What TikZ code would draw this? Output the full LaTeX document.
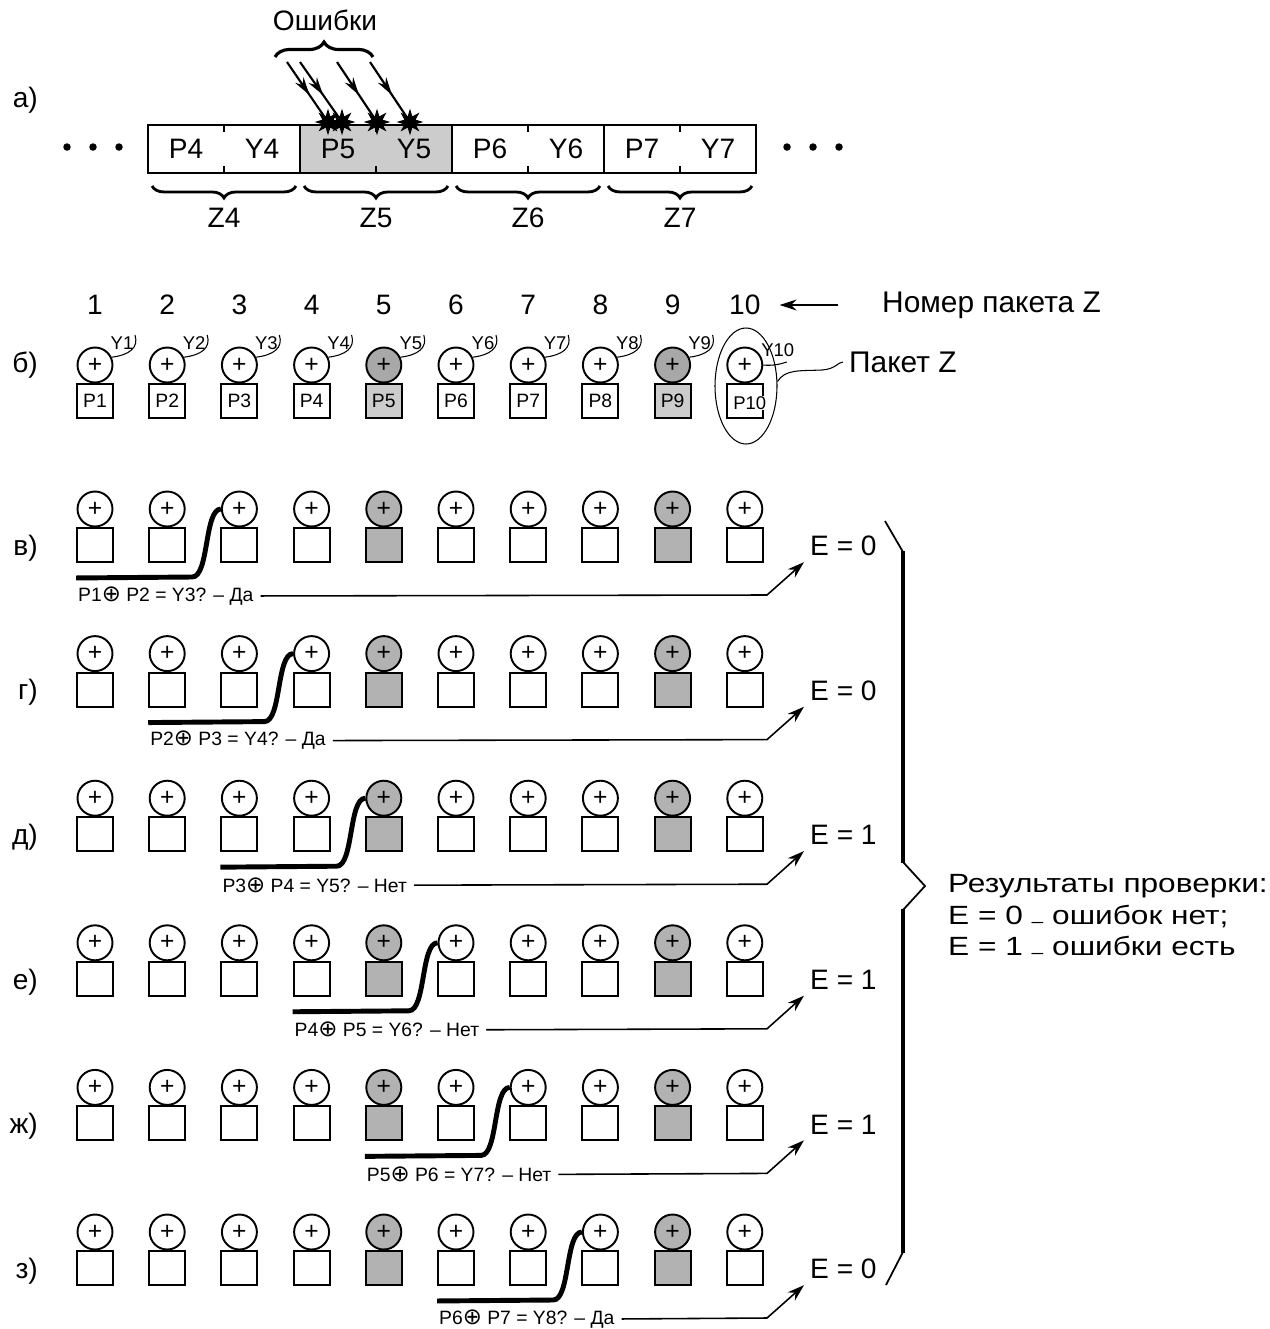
\documentclass[tikz,border=0pt]{standalone}
\usepackage{fontspec}
\usepackage{graphicx}
\setmainfont{Liberation Sans}
\newfontfamily\symfont{DejaVu Sans}
\usetikzlibrary{arrows.meta, positioning, shapes.geometric, decorations.pathreplacing, decorations.markings}

\definecolor{zgray}{gray}{0.80}
\colorlet{qwhite}{white}
\definecolor{qgray}{gray}{0.66}
\colorlet{pwhite}{white}
\definecolor{pgray}{gray}{0.80}
\colorlet{rwhite}{white}
\definecolor{rgray}{gray}{0.70}

\newcommand{\xo}{{\symfont\fontsize{13}{13}\selectfont ⊕}}
\newcommand{\lowdash}{\raisebox{-0.2ex}{\fontsize{10}{10}\selectfont –}}

\begin{document}
\begin{tikzpicture}[
        x=0.02cm, y=-0.02cm,
        every node/.style={font=\fontsize{16}{18}\selectfont},
        big/.style={font=\fontsize{17}{18}\selectfont},
        rowlab/.style={anchor=east},
        xorc/.style={circle, draw, line width=1.1pt, minimum size=0.70cm, inner sep=0pt, font=\fontsize{14}{14}\selectfont},
        pbox/.style={rectangle, draw, line width=1.1pt, minimum width=0.72cm, minimum height=0.68cm, inner sep=0pt, font=\fontsize{11}{11}\selectfont},
        zbox/.style={rectangle, draw, line width=1.1pt, minimum width=3.04cm, minimum height=0.96cm, inner sep=0pt},
        dot/.style={circle, fill=black, minimum size=0.15cm, inner sep=0pt},
        hit/.style={star, star points=8, star point ratio=2.2, fill=black, draw, line width=0.6pt, minimum size=0.46cm, inner sep=0pt},
        errline/.style={draw, line width=1.2pt, postaction={decorate},
          decoration={markings, mark=at position 0.55 with {\arrow{Stealth[length=0.36cm, width=0.2cm]}}}},
        zbrace/.style={draw, line width=1.6pt, decorate, decoration={brace, mirror, amplitude=0.24cm}},
        chk/.style={draw, line width=2.8pt},
        line/.style={draw, line width=0.9pt, -{Stealth[length=0.34cm, width=0.22cm]}},
        ylab/.style={font=\fontsize{10.5}{11}\selectfont, inner sep=0pt},
        small/.style={font=\fontsize{11}{12}\selectfont}
        ]
        \useasboundingbox (0,0) rectangle (1270,1329);

        % a) packets in the channel
        \node[rowlab] (la) at (44,100) {а)};
        \foreach \x in {67,93,119} \node[dot] at (\x,147) {};
        \foreach \x in {787,813,839} \node[dot] at (\x,147) {};
        \foreach \k/\x/\f in {4/224/white, 5/376/zgray, 6/528/white, 7/680/white} {
          \node[zbox, fill=\f] (z\k) at (\x,149) {};
          \node at ([xshift=-0.76cm]z\k.center) {P\k};
          \node at ([xshift=0.76cm]z\k.center) {Y\k};
          \draw[line width=1pt] (z\k.north) -- ++(0,8) (z\k.south) -- ++(0,-8);
          \draw[zbrace] ([xshift=0.1cm, yshift=-0.24cm]z\k.south west) -- ([xshift=-0.1cm, yshift=-0.24cm]z\k.south east);
          \node (zl\k) at (\x,218) {Z\k};
        }
        \node (err) at (325,20) {Ошибки};
        \draw[line width=1.8pt, decorate, decoration={brace, amplitude=0.3cm}] (275,57) -- (373,57);
        \foreach \s/\e [count=\j] in {287/328, 300/342, 337/377, 370/410} {
          \node[hit] (h\j) at (\e,122) {};
          \coordinate (s\j) at (\s,62);
          \path[errline] (s\j) -- (h\j.center);
        }

        % b) numbering of packets
        \node[rowlab] (lb) at (44,365) {б)};
        \foreach \i/\cf in {1/white,2/white,3/white,4/white,5/gray,6/white,7/white,8/white,9/gray,10/white} {
          \pgfmathsetmacro\cx{95+72.2*(\i-1)}
          \node (n\i) at (\cx,305) {\i};
          \node[xorc, fill=q\cf] (q\i) at (\cx,365) {+};
          \ifnum\i<10
            \node[pbox, fill=p\cf] (p\i) at (\cx,401) {P\i};
            \node[ylab] (y\i) at (\cx+27,343) {Y\i};
            \draw[line width=0.6pt] (q\i.25) .. controls (\cx+34,355) and (\cx+44,348) .. (\cx+40,335);
          \else
            \node[pbox] (p\i) at (\cx,401) {};
            \node[ylab, fill=white] (p\i t) at (\cx+5,403) {P\i};
            \node[ylab] (y\i) at (\cx+33,350) {Y\i};
            \draw[line width=0.6pt] (q\i.east) .. controls (\cx+28,366) and (\cx+36,364) .. (\cx+42,362);
          \fi
        }
        \node[big, anchor=west] (numlbl) at (876,305) {Номер пакета Z};
        \path[line] ([xshift=-0.76cm]numlbl.west) -- ([xshift=0.26cm]n10.east);
        \node[ellipse, draw, line width=0.6pt, minimum width=1.24cm, minimum height=2.32cm, inner sep=0pt] (pak) at (746,386) {};
        \node[big, anchor=west] (paklbl) at (843,362) {Пакет Z};
        \draw[line width=0.6pt] (pak.8) .. controls (785,369) and (800,371) .. (822,370) .. controls (836,369) and (838,362) .. (paklbl.west);

        % c)--h) checks of neighbouring packets
        \foreach \r/\lab/\res/\txt in {0/в/0/{P1\xo\ P2 = Y3? – Да}, 1/г/0/{P2\xo\ P3 = Y4? – Да},
            2/д/1/{P3\xo\ P4 = Y5? – Нет}, 3/е/1/{P4\xo\ P5 = Y6? – Нет},
            4/ж/1/{P5\xo\ P6 = Y7? – Нет}, 5/з/0/{P6\xo\ P7 = Y8? – Да}} {
          \pgfmathsetmacro\cy{509+144.6*\r}
          \node[rowlab] (l\r) at (44,\cy+39) {\lab)};
          \foreach \i/\cf in {1/white,2/white,3/white,4/white,5/gray,6/white,7/white,8/white,9/gray,10/white} {
            \pgfmathsetmacro\cx{95+72.2*(\i-1)}
            \node[xorc, fill=r\cf] (c\r-\i) at (\cx,\cy) {+};
            \node[pbox, fill=r\cf] (b\r-\i) at (\cx,\cy+36) {};
          }
          \pgfmathtruncatemacro\k{\r+1}
          \pgfmathtruncatemacro\j{\r+3}
          \pgfmathsetmacro\xb{95+72.2*(\r+1)+25}
          \coordinate (s\r) at ([yshift=-0.3cm]b\r-\k.south west);
          \draw[chk] (s\r) -- (\xb,\cy+68) .. controls (\xb+17,\cy+68) and (\xb+12,\cy) .. (c\r-\j.west);
          \node[small, anchor=west, inner sep=1pt] (t\r) at ([yshift=-0.36cm]s\r) {\txt};
          \node[anchor=west] (e\r) at (804,\cy+37) {E = \res};
          \path[line] ([xshift=0.1cm]t\r.east) -- (767,\cy+86) -- (e\r.south west);
        }

        % result brace
        \draw[line width=1pt] (885,521) -- (903,552);
        \draw[line width=2.8pt] (903,551) -- (903,863);
        \draw[line width=1pt] (903,862) -- (925,886) -- (903,910);
        \draw[line width=2.8pt] (903,909) -- (903,1253);
        \draw[line width=1pt] (903,1252) -- (886,1285);
        \node[anchor=west, font=\fontsize{15}{17.8}\selectfont] (sum) at (942,918)
          {\scalebox{1.2}[1]{\begin{tabular}{@{}l@{}}Результаты проверки:\\E = 0 \lowdash{} ошибок нет;\\E = 1 \lowdash{} ошибки есть\end{tabular}}};
      \end{tikzpicture}
\end{document}
